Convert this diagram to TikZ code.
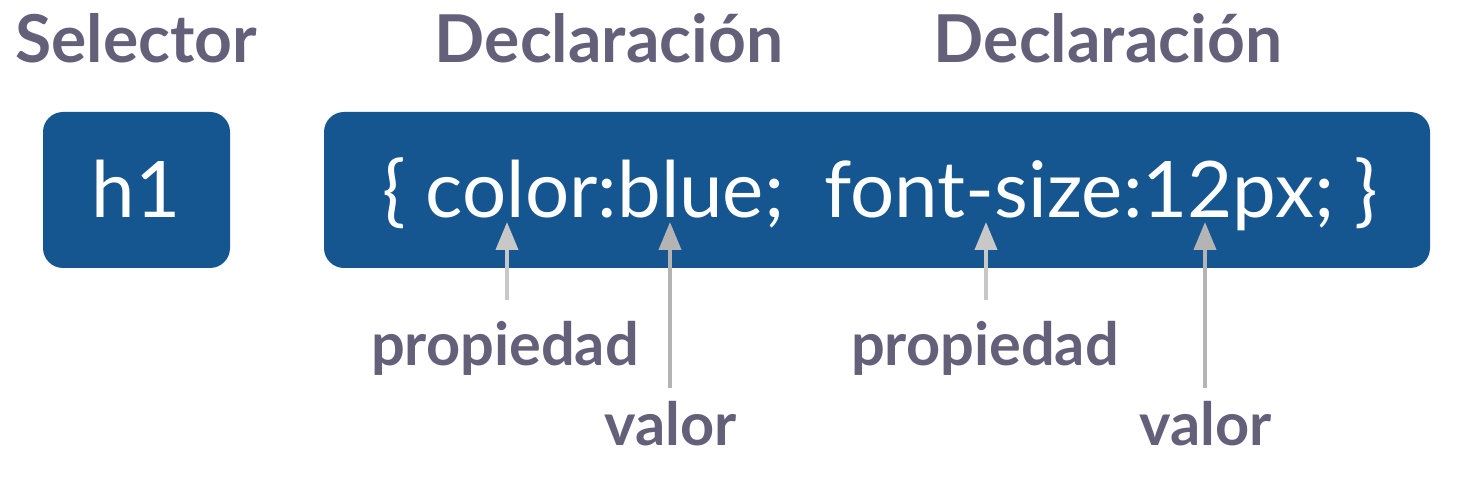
\documentclass[tikz,border=0pt]{standalone}
\usepackage{fontspec}
\setmainfont{Lato}
\usetikzlibrary{arrows.meta}
\definecolor{boxblue}{RGB}{21,86,145}
\definecolor{labelgray}{RGB}{100,96,121}
\definecolor{arrlight}{RGB}{200,200,200}
\definecolor{arrdark}{RGB}{180,180,180}
\tikzset{
  bluebox/.style={fill=boxblue,rounded corners=20pt,draw=none},
  heading/.style={text=labelgray,font=\fontsize{66}{70}\selectfont\bfseries,inner sep=0pt,anchor=base},
  partlabel/.style={text=labelgray,font=\fontsize{59.5}{62}\selectfont\bfseries,inner sep=0pt,anchor=base},
  codetext/.style={text=white,font=\fontsize{78}{82}\selectfont,inner sep=0pt,anchor=base},
  pointer/.style={line width=4pt,-{Triangle[width=22pt,length=28pt]}},
}
\begin{document}
\begin{tikzpicture}[x=1pt,y=-1pt]
\useasboundingbox (0,0) rectangle (1460,494);
\fill[bluebox] (43,112) rectangle (230,268);
\fill[bluebox] (324,112) rectangle (1430,268);
\node[heading] (sel) at (136,63) {Selector};
\node[heading] (dec1) at (609,63) {Declaración};
\node[heading] (dec2) at (1108,63) {Declaración};
\node[codetext] (h1) at (136,218) {h1};
\node[codetext] (code) at (880,218) {\{ color:blue;\ \ font-size:12px; \}};
\node[partlabel] (p1) at (505,366) {propiedad};
\node[partlabel] (v1) at (671,446) {valor};
\node[partlabel] (p2) at (985,366) {propiedad};
\node[partlabel] (v2) at (1206,446) {valor};
\coordinate (p1s) at (507,300); \coordinate (p1e) at (507,222);
\coordinate (v1s) at (670,388); \coordinate (v1e) at (670,222);
\coordinate (p2s) at (986,300); \coordinate (p2e) at (986,222);
\coordinate (v2s) at (1205,388); \coordinate (v2e) at (1205,222);
\draw[pointer,arrlight] (p1s) -- (p1e);
\draw[pointer,arrdark] (v1s) -- (v1e);
\draw[pointer,arrlight] (p2s) -- (p2e);
\draw[pointer,arrdark] (v2s) -- (v2e);
\end{tikzpicture}
\end{document}
